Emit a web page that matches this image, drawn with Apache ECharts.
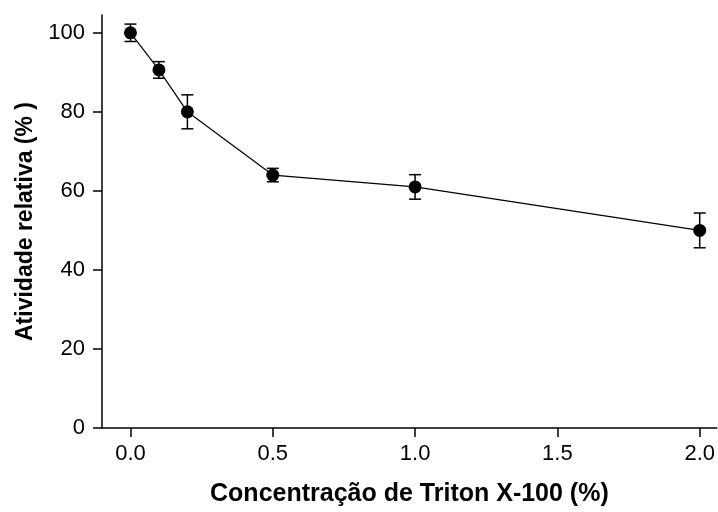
<!DOCTYPE html>
<html>
<head>
<meta charset="utf-8">
<script src="https://cdn.jsdelivr.net/npm/echarts@6/dist/echarts.min.js"></script>
<style>html,body{margin:0;padding:0;background:#fff;}#c{width:718px;height:512px;}</style>
</head>
<body>
<div id="c"></div>
<script>
var concentrations = [0, 0.1, 0.2, 0.5, 1.0, 2.0];
var activity = [100, 90.6, 80, 64, 61, 50];
var errors = [2.2, 2.1, 4.3, 1.7, 3.1, 4.4];
var xTicks = [0, 0.5, 1.0, 1.5, 2.0];
var yTicks = [0, 20, 40, 60, 80, 100];
var xTitle = 'Concentração de Triton X-100 (%)';
var yTitle = 'Atividade relativa (% )';

var lineData = concentrations.map(function (c, i) { return [c, activity[i]]; });
var errData = concentrations.map(function (c, i) { return [c, activity[i] - errors[i], activity[i] + errors[i]]; });

var chart = echarts.init(document.getElementById('c'));
var font = 'Liberation Sans, Arial, sans-serif';
chart.setOption({
  animation: false,
  backgroundColor: '#fff',
  grid: { left: 102, right: 0, top: 15, bottom: 79, containLabel: false },
  xAxis: {
    type: 'value', min: -0.1, max: 2.06,
    name: xTitle, nameLocation: 'middle', nameGap: 54,
    nameTextStyle: { fontFamily: font, fontWeight: 'bold', fontSize: 25, color: '#000' },
    axisLine: { onZero: false, lineStyle: { color: '#000', width: 1.5 } },
    axisTick: { show: true, length: 9, lineStyle: { color: '#000', width: 1.5 }, customValues: xTicks },
    axisLabel: { customValues: xTicks, margin: 15, fontFamily: font, fontSize: 22, color: '#000',
      formatter: function (v) { return Number(v).toFixed(1); } },
    splitLine: { show: false }
  },
  yAxis: {
    type: 'value', min: 0, max: 104.5,
    name: yTitle, nameLocation: 'middle', nameGap: 65, nameRotate: 90,
    nameTextStyle: { fontFamily: font, fontWeight: 'bold', fontSize: 23, color: '#000' },
    axisLine: { show: true, onZero: false, lineStyle: { color: '#000', width: 1.5 } },
    axisTick: { show: true, length: 9, lineStyle: { color: '#000', width: 1.5 }, customValues: yTicks },
    axisLabel: { customValues: yTicks, margin: 17, fontFamily: font, fontSize: 22, color: '#000' },
    splitLine: { show: false }
  },
  series: [
    {
      type: 'custom',
      data: errData,
      z: 2,
      renderItem: function (params, api) {
        var x = api.value(0);
        var lo = api.coord([x, api.value(1)]);
        var hi = api.coord([x, api.value(2)]);
        var hw = 6;
        var st = { stroke: '#000', lineWidth: 1.5, fill: null };
        return {
          type: 'group',
          children: [
            { type: 'line', shape: { x1: lo[0], y1: lo[1], x2: hi[0], y2: hi[1] }, style: st },
            { type: 'line', shape: { x1: lo[0] - hw, y1: lo[1], x2: lo[0] + hw, y2: lo[1] }, style: st },
            { type: 'line', shape: { x1: hi[0] - hw, y1: hi[1], x2: hi[0] + hw, y2: hi[1] }, style: st }
          ]
        };
      }
    },
    {
      type: 'line',
      data: lineData,
      z: 3,
      symbol: 'circle',
      symbolSize: 13,
      itemStyle: { color: '#000' },
      lineStyle: { color: '#000', width: 1.2 }
    }
  ]
});
</script>
</body>
</html>
